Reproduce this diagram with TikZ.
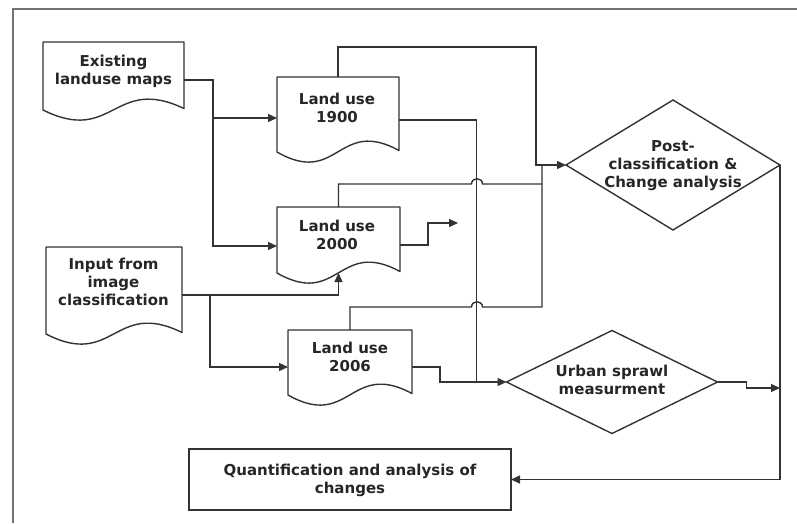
\documentclass[tikz,border=0pt]{standalone}
\usepackage{fontspec}
\setmainfont{DejaVu Sans}
\usetikzlibrary{arrows.meta,calc,shapes.geometric}

% outline of a flowchart "document" symbol drawn around a body node
\newcommand\docoutline[1]{%
  \draw[ink, line join=round] (#1.south west) -- (#1.north west) -- (#1.north east)
    -- ([yshift=1.5pt]#1.south east)
    .. controls ($(#1.south)+(0,-35)$) and ($(#1.south)+(0,35)$) .. (#1.south west) -- cycle;}

\begin{document}
\begin{tikzpicture}[x=1pt,y=-1pt,
  ink/.style={draw=black!80, line width=1.4pt},
  frame/.style={draw=black!55, line width=2.2pt},
  docbody/.style={shape=rectangle, inner sep=0pt, outer sep=0pt},
  decision/.style={shape=diamond, ink, inner sep=0pt, outer sep=0pt},
  procbox/.style={shape=rectangle, ink, inner sep=0pt, outer sep=0pt},
  lbl/.style={inner sep=0pt, align=center, text=black!85,
              font=\bfseries\fontsize{15}{18}\selectfont},
  flow/.style={ink, -{Triangle[length=9pt,width=8pt]}},
  wire/.style={ink},
]
\useasboundingbox (0,0) rectangle (797,523);

% page frame
\draw[frame] (13,523) -- (13,9) -- (797,9);

% document bodies
\node[docbody, anchor=north west, minimum width=141, minimum height=68] (exist)  at (43,42)  {};
\node[docbody, anchor=north west, minimum width=122, minimum height=75] (lu1900) at (277,77) {};
\node[docbody, anchor=north west, minimum width=123, minimum height=66] (lu2000) at (277,207) {};
\node[docbody, anchor=north west, minimum width=136, minimum height=87] (input)  at (46,247) {};
\node[docbody, anchor=north west, minimum width=124, minimum height=65] (lu2006) at (288,330) {};
\docoutline{exist}
\docoutline{lu1900}
\docoutline{lu2000}
\docoutline{input}
\docoutline{lu2006}

% decisions and final process
\node[decision, minimum width=214, minimum height=130] (post)  at (673,165) {};
\node[decision, minimum width=211, minimum height=103] (urban) at (612,382) {};
\node[procbox, minimum width=322, minimum height=61] (quant) at (350,479.5) {};

% labels
\node[lbl] (existtxt)  at (113.5,71) {Existing\\landuse maps};
\node[lbl] (lu1900txt) at (337,108)  {Land use\\1900};
\node[lbl] (lu2000txt) at (337,235)  {Land use\\2000};
\node[lbl] (inputtxt)  at (113.5,282){Input from\\image\\classification};
\node[lbl] (lu2006txt) at (350,357)  {Land use\\2006};
\node[lbl] (posttxt)   at (673,166)  {Post-\\classification \&\\Change analysis};
\node[lbl] (urbantxt)  at (612,380)  {Urban sprawl\\measurment};
\node[lbl] (quanttxt)  at (350,480)  {Quantification and analysis of\\changes};

% existing maps feed the 1900 and 2000 layers
\draw[flow] ([yshift=-4pt]exist.east) -- ++(29,0) |- ([yshift=-3.5pt]lu1900.west);
\draw[flow] ([yshift=-4pt]exist.east) -- ++(29,0) |- ([yshift=-6pt]lu2000.west);

% classification input feeds 2000 and 2006
\draw[flow] ([yshift=-4.5pt]input.east) -| (lu2000.south);
\draw[flow] ([yshift=-4.5pt]input.east) -- ++(28,0) |- ([yshift=-4.5pt]lu2006.west);

% all three layers go to post-classification
\draw[flow] (lu1900.north) -- ++(0,-30) -| ([xshift=-30pt]post.west) -- (post.west);
\draw[wire] (lu2000.north) -- ++(0,-23) -- (471.5,184)
  .. controls (471.5,177) and (482.5,177) .. (482.5,184) -- (542,184);
\draw[wire] (lu2006.north) -- ++(0,-23) -- (471.5,307)
  .. controls (471.5,300) and (482.5,300) .. (482.5,307) -- (542,307) -- (542,165);

% 1900 and 2006 layers go to urban sprawl
\draw[wire] ([yshift=-5.5pt]lu1900.east) -| ([xshift=-30pt]urban.west);
\draw[flow] ([yshift=-4.5pt]lu2006.east) -- ++(28,0) |- (urban.west);

% open output of the 2000 layer
\coordinate (lu2000out) at (458,223);
\draw[flow] ([yshift=-5pt]lu2000.east) -- ++(28,0) |- (lu2000out);

% results to quantification
\draw[flow] (urban.east) -- ++(29,0) -- ++(0,6) coordinate (urbanstep) -- (urbanstep -| post.east);
\draw[flow] (post.east) |- (quant.east);
\end{tikzpicture}
\end{document}
